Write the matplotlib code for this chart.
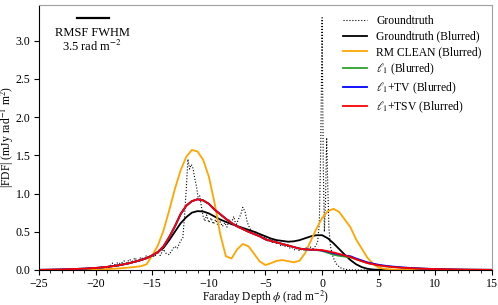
import matplotlib
matplotlib.use("Agg")
import matplotlib.pyplot as plt
from matplotlib.ticker import MultipleLocator

plt.rcParams['font.family'] = ['Liberation Serif', 'DejaVu Serif']
plt.rcParams['mathtext.fontset'] = 'stix'

# grille commune des courbes floutees
phi = [-25, -24, -23, -22, -21, -20, -19.5, -19, -18.5, -18, -17.5, -17, -16.5, -16,
       -15.5, -15, -14.5, -14, -13.5, -13, -12.5, -12, -11.5, -11, -10.5, -10, -9.5, -9,
       -8.5, -8, -7.5, -7, -6.5, -6, -5.5, -5, -4.5, -4, -3.5, -3, -2.5, -2, -1.5, -1,
       -0.5, 0, 0.5, 1, 1.5, 2, 2.5, 3, 3.5, 4, 4.5, 5, 5.5, 6, 7, 8, 9, 10, 11, 12,
       13, 14, 15]

gt_blur = [0.0, 0.001, 0.003, 0.007, 0.013, 0.022, 0.03, 0.04, 0.05, 0.06, 0.075, 0.09,
           0.11, 0.13, 0.155, 0.19, 0.235, 0.29, 0.39, 0.50, 0.61, 0.69, 0.75, 0.77, 0.765,
           0.74, 0.70, 0.66, 0.63, 0.60, 0.575, 0.55, 0.525, 0.50, 0.47, 0.44, 0.41, 0.39,
           0.38, 0.37, 0.375, 0.39, 0.415, 0.44, 0.455, 0.455, 0.415, 0.35, 0.275, 0.20, 0.13,
           0.075, 0.038, 0.016, 0.006, 0.002, 0.001, 0.0, 0.0, 0.0, 0.0, 0.0, 0.0, 0.0, 0.0,
           0.0, 0.0]

rmclean = [0.0, 0.0, 0.001, 0.002, 0.004, 0.007, 0.009, 0.012, 0.016, 0.02, 0.026, 0.033,
           0.04, 0.05, 0.075, 0.19, 0.32, 0.52, 0.78, 1.06, 1.30, 1.48, 1.57, 1.55, 1.44,
           1.22, 0.88, 0.47, 0.18, 0.15, 0.27, 0.34, 0.31, 0.21, 0.11, 0.065, 0.09, 0.12,
           0.13, 0.115, 0.10, 0.12, 0.22, 0.38, 0.54, 0.68, 0.77, 0.80, 0.76, 0.66, 0.56,
           0.40, 0.28, 0.16, 0.08, 0.03, 0.015, 0.008, 0.003, 0.001, 0.001, 0.0, 0.0, 0.0,
           0.0, 0.0, 0.0]

l1 = [0.002, 0.004, 0.007, 0.012, 0.018, 0.027, 0.033, 0.04, 0.05, 0.06, 0.075, 0.09,
      0.11, 0.13, 0.155, 0.19, 0.235, 0.31, 0.43, 0.57, 0.73, 0.84, 0.90, 0.925, 0.91,
      0.865, 0.79, 0.73, 0.67, 0.615, 0.57, 0.535, 0.50, 0.47, 0.44, 0.40, 0.38, 0.36,
      0.34, 0.32, 0.30, 0.28, 0.27, 0.265, 0.26, 0.25, 0.225, 0.20, 0.185, 0.175, 0.165,
      0.14, 0.115, 0.09, 0.075, 0.06, 0.05, 0.042, 0.03, 0.022, 0.016, 0.012, 0.009, 0.006,
      0.004, 0.003, 0.002]

l1_tv = [0.002, 0.004, 0.007, 0.012, 0.018, 0.027, 0.033, 0.04, 0.05, 0.06, 0.075, 0.09,
         0.11, 0.13, 0.155, 0.19, 0.235, 0.31, 0.43, 0.57, 0.73, 0.84, 0.90, 0.925, 0.91,
         0.865, 0.79, 0.73, 0.67, 0.615, 0.57, 0.535, 0.50, 0.47, 0.44, 0.40, 0.38, 0.36,
         0.34, 0.32, 0.30, 0.28, 0.27, 0.265, 0.265, 0.255, 0.24, 0.22, 0.205, 0.19, 0.18,
         0.15, 0.125, 0.10, 0.083, 0.068, 0.057, 0.048, 0.035, 0.025, 0.018, 0.013, 0.009,
         0.006, 0.004, 0.003, 0.002]

l1_tsv = [0.002, 0.004, 0.007, 0.012, 0.018, 0.027, 0.033, 0.04, 0.05, 0.06, 0.075, 0.09,
          0.11, 0.13, 0.155, 0.19, 0.235, 0.31, 0.43, 0.57, 0.73, 0.84, 0.90, 0.925, 0.91,
          0.865, 0.79, 0.73, 0.67, 0.615, 0.57, 0.535, 0.50, 0.47, 0.44, 0.40, 0.38, 0.36,
          0.34, 0.32, 0.30, 0.28, 0.27, 0.265, 0.265, 0.26, 0.245, 0.23, 0.21, 0.19, 0.17,
          0.14, 0.115, 0.09, 0.075, 0.06, 0.05, 0.042, 0.03, 0.022, 0.016, 0.012, 0.009,
          0.006, 0.004, 0.003, 0.002]

# verite terrain (non floutee)
gt_phi = [-25, -19.6, -19.3, -19.0, -18.7, -18.5, -18.3, -18.0, -17.8, -17.5, -17.3, -17.0,
          -16.8, -16.5, -16.3, -16.0, -15.8, -15.5, -15.3, -15.0, -14.8, -14.5, -14.3,
          -14.0, -13.8, -13.5, -13.3, -13.0, -12.8, -12.5, -12.3, -12.15, -12.0, -11.85,
          -11.7, -11.55, -11.4, -11.25, -11.1, -10.95, -10.8, -10.65, -10.5, -10.35, -10.2,
          -10.0, -9.8, -9.6, -9.4, -9.2, -9.0, -8.8, -8.6, -8.4, -8.2, -8.0, -7.8, -7.6,
          -7.4, -7.2, -7.0, -6.8, -6.6, -6.4, -6.2, -6.0, -5.8, -5.6, -5.4, -5.2, -5.0,
          -4.8, -4.6, -4.4, -4.2, -4.0, -3.8, -3.6, -3.4, -3.2, -3.0, -2.8, -2.6, -2.4,
          -2.2, -2.0, -1.8, -1.6, -1.4, -1.2, -1.0, -0.8, -0.6, -0.4, -0.25, -0.12, 0.0,
          0.1, 0.2, 0.3, 0.4, 0.5, 0.6, 0.75, 0.9, 1.1, 1.3, 1.6, 2.0, 2.5, 15]
gt_val = [0.0, 0.0, 0.03, 0.01, 0.06, 0.09, 0.07, 0.1, 0.08, 0.12, 0.09, 0.14,
          0.11, 0.16, 0.1, 0.17, 0.14, 0.19, 0.15, 0.2, 0.17, 0.24, 0.19,
          0.27, 0.22, 0.2, 0.25, 0.31, 0.28, 0.38, 0.42, 0.7, 1.05, 1.45,
          1.32, 1.38, 1.33, 1.2, 1.1, 0.95, 0.97, 0.82, 0.7, 0.64, 0.72,
          0.62, 0.68, 0.6, 0.66, 0.58, 0.63, 0.57, 0.62, 0.56, 0.66, 0.62, 0.7, 0.58,
          0.66, 0.72, 0.82, 0.76, 0.62, 0.55, 0.5, 0.47, 0.5, 0.44, 0.46, 0.41, 0.43,
          0.38, 0.4, 0.36, 0.38, 0.34, 0.35, 0.31, 0.33, 0.3, 0.31, 0.28, 0.29, 0.26,
          0.28, 0.25, 0.27, 0.26, 0.29, 0.27, 0.3, 0.28, 0.31, 0.36, 0.6, 1.6, 3.30,
          1.4, 0.5, 0.9, 1.73, 1.1, 0.55, 0.3, 0.2, 0.12, 0.07, 0.03, 0.01, 0.0, 0.0]

fig = plt.figure(figsize=(4.98, 3.05), dpi=100)
ax = fig.add_axes([0.0783, 0.1148, 0.9096, 0.8698])

ax.plot(gt_phi, gt_val, ':', color='k', lw=0.8, label='Groundtruth')
ax.plot(phi, gt_blur, '-', color='k', lw=1.3, label='Groundtruth (Blurred)')
ax.plot(phi, rmclean, '-', color='orange', lw=1.3, label='RM CLEAN (Blurred)')
ax.plot(phi, l1, '-', color='tab:green', lw=1.3, label=r'$\ell_1$ (Blurred)')
ax.plot(phi, l1_tv, '-', color='blue', lw=1.3, label=r'$\ell_1$+TV (Blurred)')
ax.plot(phi, l1_tsv, '-', color='red', lw=1.3, label=r'$\ell_1$+TSV (Blurred)')

# barre RMSF
ax.plot([-21.65, -18.8], [3.30, 3.30], '-', color='k', lw=1.6)
ax.text(-20.3, 3.18, 'RMSF FWHM\n' + r'3.5 rad m$^{-2}$', ha='center', va='top',
        fontsize=9, linespacing=1.0)

ax.set_xlim(-25, 15)
ax.set_ylim(0, 3.47)
ax.xaxis.set_minor_locator(MultipleLocator(1))
ax.tick_params(labelsize=8.6, length=3.5, width=0.8, pad=2.5)
ax.tick_params(axis='x', pad=2.0)
ax.tick_params(which='minor', length=2, width=0.6)
for s in ['top', 'right']:
    ax.spines[s].set_color('#a0a0a0')

ax.set_xlabel(r'Faraday Depth $\phi$ (rad m$^{-2}$)', fontsize=8.3, labelpad=-0.6)
ax.set_ylabel(r'|FDF| (mJy rad$^{-1}$ m$^2$)', fontsize=8.4, labelpad=0)
ax.legend(loc='upper right', frameon=False, fontsize=8.4, handlelength=2.0,
          labelspacing=0.3)

fig.savefig('out.png', dpi=100)
